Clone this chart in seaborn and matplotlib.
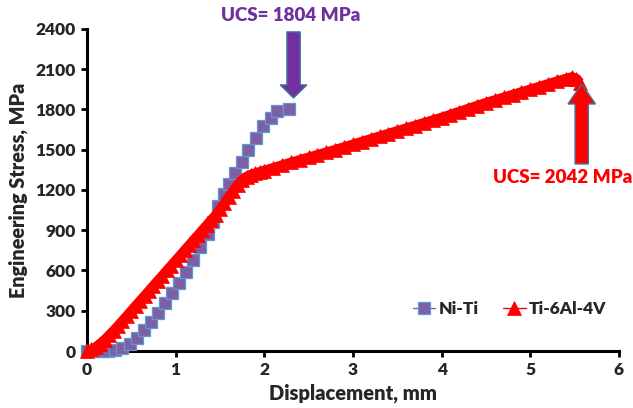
import matplotlib
matplotlib.use("Agg")
import matplotlib.pyplot as plt
from matplotlib.patches import FancyArrow
import seaborn as sns
import pandas as pd

# Ni-Ti series
niti_disp = [0.00, 0.08, 0.16, 0.24, 0.32, 0.40, 0.48, 0.56, 0.64, 0.72, 0.80, 0.88,
             0.96, 1.04, 1.12, 1.20, 1.28, 1.36, 1.42, 1.48, 1.54, 1.60, 1.67, 1.75,
             1.82, 1.91, 1.99, 2.07, 2.14, 2.28]
niti_stress = [0, 0, 0, 0, 5, 25, 55, 100, 155, 215, 285, 355,
               430, 505, 590, 680, 775, 870, 960, 1080, 1170, 1245, 1327, 1409,
               1498, 1588, 1677, 1737, 1789, 1804]

# Ti-6Al-4V series
ti_disp = [0.00, 0.05, 0.10, 0.15, 0.20, 0.25, 0.30, 0.35, 0.40, 0.45, 0.50, 0.55,
           0.60, 0.65, 0.70, 0.75, 0.80, 0.85, 0.90, 0.95, 1.00, 1.05, 1.10, 1.15,
           1.20, 1.25, 1.30, 1.35, 1.40, 1.45, 1.50, 1.55, 1.60, 1.65, 1.70, 1.75,
           1.80, 1.85, 1.90, 1.95, 2.00, 2.10, 2.20, 2.30, 2.40, 2.50, 2.60, 2.70,
           2.80, 2.90, 3.00, 3.10, 3.20, 3.30, 3.40, 3.50, 3.60, 3.70, 3.80, 3.90,
           4.00, 4.10, 4.20, 4.30, 4.40, 4.50, 4.60, 4.70, 4.80, 4.90, 5.00, 5.10,
           5.20, 5.30, 5.40, 5.47, 5.52, 5.56]
ti_stress = [0, 12, 30, 55, 85, 118, 152, 188, 225, 262, 300, 338,
             375, 412, 450, 488, 525, 562, 600, 637, 675, 712, 750, 787,
             825, 862, 900, 937, 975, 1012, 1055, 1100, 1150, 1195, 1240, 1275,
             1300, 1315, 1325, 1335, 1345, 1365, 1385, 1405, 1424, 1443, 1462, 1481,
             1500, 1520, 1540, 1560, 1580, 1600, 1620, 1640, 1660, 1680, 1700, 1720,
             1740, 1762, 1784, 1806, 1828, 1850, 1870, 1890, 1910, 1930, 1950, 1970,
             1990, 2010, 2030, 2042, 2030, 2000]

x_ticks = [0, 1, 2, 3, 4, 5, 6]
y_ticks = [0, 300, 600, 900, 1200, 1500, 1800, 2100, 2400]

ucs_niti = 1804
ucs_ti = 2042

sns.set_style("white")
plt.rcParams['font.family'] = ['Lato', 'DejaVu Sans']
plt.rcParams['font.weight'] = 'bold'
W = 'heavy'

fig = plt.figure(figsize=(6.33, 4.08), dpi=100)
ax = fig.add_axes([0.1374, 0.1397, 0.8404, 0.7893])

df_niti = pd.DataFrame({"d": niti_disp, "s": niti_stress})
df_ti = pd.DataFrame({"d": ti_disp, "s": ti_stress})

sns.lineplot(data=df_niti, x="d", y="s", ax=ax, sort=False, estimator=None,
             color="#7F63A8", lw=1.0, marker="s", ms=8.5, mfc="#7F5FA3",
             mec="#5B9BD5", mew=0.9, label="Ni-Ti", clip_on=False, zorder=3)
# thick band under the dense triangle markers
sns.lineplot(data=df_ti, x="d", y="s", ax=ax, sort=False, estimator=None,
             color="#FF0000", lw=7, legend=False, clip_on=False, zorder=4,
             solid_capstyle="butt")
sns.lineplot(data=df_ti, x="d", y="s", ax=ax, sort=False, estimator=None,
             color="#FF0000", lw=1.0, marker="^", ms=9.5, mfc="#FF0000",
             mec="#FF0000", mew=0.5, label="Ti-6Al-4V", clip_on=False, zorder=4)

ax.set_xlim(0, 6)
ax.set_ylim(0, 2400)
ax.set_xticks(x_ticks)
ax.set_yticks(y_ticks)
ax.set_xticklabels([str(v) for v in x_ticks], fontsize=12.5, fontweight=W)
ax.set_yticklabels([str(v) for v in y_ticks], fontsize=12.5, fontweight=W)
ax.set_xlabel("Displacement, mm", fontsize=14.5, fontweight=W, labelpad=4)
ax.set_ylabel("Engineering Stress, MPa", fontsize=14.2, fontweight=W, labelpad=5)

for s in ["top", "right"]:
    ax.spines[s].set_visible(False)
for s in ["left", "bottom"]:
    ax.spines[s].set_linewidth(2.2)
    ax.spines[s].set_color("black")
ax.tick_params(axis="both", direction="out", length=4, width=2, color="black",
               pad=4, left=True, bottom=True)
ax.grid(False)

# Arrows
arr1 = FancyArrow(2.33, 2378, 0, -(2378 - 1886), width=0.15, head_width=0.30,
                  head_length=97, length_includes_head=True,
                  facecolor="#7030A0", edgecolor="#41719C", lw=1.0,
                  zorder=6, clip_on=False)
ax.add_patch(arr1)
arr2 = FancyArrow(5.58, 1394, 0, 1990 - 1394, width=0.15, head_width=0.31,
                  head_length=149, length_includes_head=True,
                  facecolor="#FF0000", edgecolor="#41719C", lw=1.0,
                  zorder=6, clip_on=False)
ax.add_patch(arr2)

ax.text(2.30, 2497, f"UCS= {ucs_niti} MPa", color="#7030A0", fontsize=13.5,
        fontweight=W, ha="center", va="center", clip_on=False)
ax.text(5.36, 1290, f"UCS= {ucs_ti} MPa", color="#FF0000", fontsize=13.5,
        fontweight=W, ha="center", va="center", clip_on=False)

leg = ax.legend(loc="center right", bbox_to_anchor=(0.99, 0.13), ncol=2,
                frameon=False, fontsize=12.5, handlelength=1.3,
                handletextpad=0.2, columnspacing=1.4, borderaxespad=0)
for t in leg.get_texts():
    t.set_fontweight(W)

fig.savefig("out.png", dpi=100)
